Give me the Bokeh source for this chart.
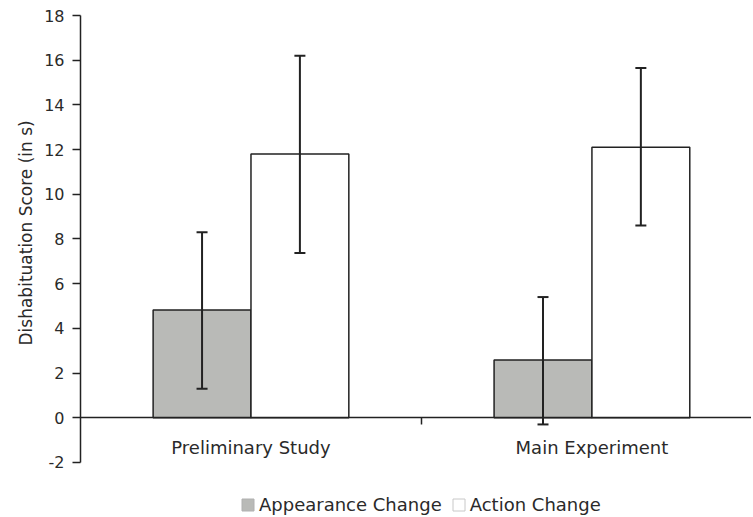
from bokeh.plotting import figure
from bokeh.models import (ColumnDataSource, Whisker, FixedTicker, Legend, LegendItem, Range1d,
                          CustomJSTickFormatter, Title)
from bokeh.embed import file_html
from bokeh.resources import INLINE

categories = ["Preliminary Study", "Main Experiment"]
series = ["Appearance Change", "Action Change"]
appearance = [4.82, 2.58]
appearance_lo = [1.3, -0.3]
appearance_hi = [8.3, 5.4]
action = [11.8, 12.1]
action_lo = [7.37, 8.6]
action_hi = [16.2, 15.65]
y_ticks = [-2, 0, 2, 4, 6, 8, 10, 12, 14, 16, 18]
y_label = "Dishabituation Score (in s)"

FONT = "DejaVu Sans"
TXT = "#2a2a2a"
GRAY = "#b9bab7"
EDGE = "#222222"
BW = 0.287

centers = [i + 0.5 for i in range(len(categories))]

p = figure(width=751, height=516, output_backend="svg", toolbar_location=None,
           x_range=Range1d(0, 1.968), y_range=Range1d(-4.42, 18),
           min_border_left=80, min_border_top=15, min_border_right=0, min_border_bottom=0)
p.grid.visible = False
p.outline_line_color = None
p.background_fill_color = "white"
p.border_fill_color = "white"

src_a = ColumnDataSource(dict(x=[c - BW / 2 for c in centers], top=appearance,
                              lo=appearance_lo, hi=appearance_hi))
src_b = ColumnDataSource(dict(x=[c + BW / 2 for c in centers], top=action,
                              lo=action_lo, hi=action_hi))

p.vbar(x="x", top="top", bottom=0, width=BW, source=src_a, fill_color=GRAY,
       line_color=EDGE, line_width=1.5)
p.vbar(x="x", top="top", bottom=0, width=BW, source=src_b, fill_color="white",
       line_color=EDGE, line_width=1.5)

for src in (src_a, src_b):
    w = Whisker(source=src, base="x", lower="lo", upper="hi", line_color=EDGE, line_width=2,
                level="overlay")
    w.upper_head.size = 11
    w.lower_head.size = 11
    w.upper_head.line_color = EDGE
    w.lower_head.line_color = EDGE
    w.upper_head.line_width = 2
    w.lower_head.line_width = 2
    p.add_layout(w)

# y axis
ya = p.yaxis[0]
ya.ticker = FixedTicker(ticks=y_ticks)
ya.bounds = (y_ticks[0], y_ticks[-1])
ya.formatter = CustomJSTickFormatter(code="return String(tick);")
ya.major_label_text_font = FONT
ya.major_label_text_font_size = "16px"
ya.major_label_text_color = TXT
ya.major_tick_in = 0
ya.major_tick_out = 8
ya.minor_tick_line_color = None
ya.axis_line_color = EDGE
ya.axis_line_width = 1.5
ya.major_tick_line_color = EDGE
ya.major_tick_line_width = 1.5
ya.major_label_standoff = 8

p.add_layout(Title(text=y_label, align="left", offset=171, standoff=12,
                   text_font=FONT, text_font_size="17px", text_font_style="normal",
                   text_color=TXT), "left")

# x axis at y = 0
xa = p.xaxis[0]
xa.fixed_location = 0
xa.ticker = FixedTicker(ticks=centers, minor_ticks=[1.0])
xa.formatter = CustomJSTickFormatter(args=dict(labels=categories), code="return labels[index];")
xa.major_label_text_font = FONT
xa.major_label_text_font_size = "18px"
xa.major_label_text_color = TXT
xa.major_tick_line_color = None
xa.major_tick_in = 0
xa.major_tick_out = 0
xa.minor_tick_in = 0
xa.minor_tick_out = 7
xa.minor_tick_line_color = EDGE
xa.minor_tick_line_width = 1.5
xa.axis_line_color = EDGE
xa.axis_line_width = 1.5
xa.major_label_standoff = 12

# legend
dummy_a = p.vbar(x=[5], top=[1], width=0.1, fill_color=GRAY, line_color="#b0b0b0")
dummy_b = p.vbar(x=[5], top=[1], width=0.1, fill_color="white", line_color="#c8c8c8")
legend = Legend(items=[LegendItem(label=series[0], renderers=[dummy_a]),
                       LegendItem(label=series[1], renderers=[dummy_b])],
                orientation="horizontal", location=(160, 1),
                label_text_font=FONT, label_text_font_size="18px", label_text_color=TXT,
                glyph_width=15, glyph_height=15, label_standoff=4, spacing=9,
                border_line_color=None, background_fill_alpha=0,
                padding=0, margin=0)
p.add_layout(legend, "center")

open("out.html", "w").write(file_html(p, INLINE))
